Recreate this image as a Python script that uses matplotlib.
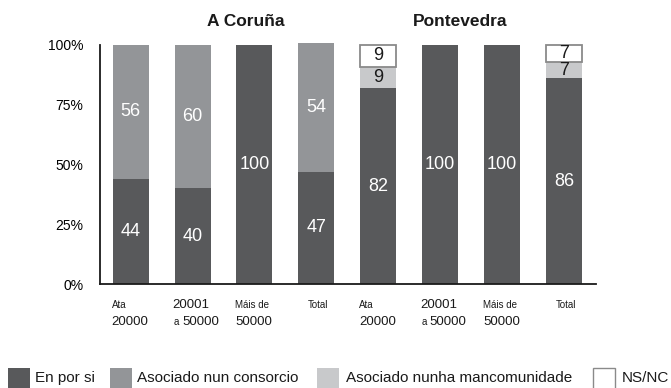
import matplotlib.pyplot as plt
from matplotlib.patches import Rectangle
import numpy as np

plt.rcParams['font.family'] = ['Liberation Sans', 'DejaVu Sans']

# tamaño do concello, en dúas liñas
label_top = ['Ata', '20001', 'Máis de', 'Total', 'Ata', '20001', 'Máis de', 'Total']
label_bottom = ['20000', 'a 50000', '50000', '', '20000', 'a 50000', '50000', '']
provinces = ['A Coruña', 'Pontevedra']

en_por_si = [44, 40, 100, 47, 82, 100, 100, 86]
consorcio = [56, 60, 0, 54, 0, 0, 0, 0]
mancomunidade = [0, 0, 0, 0, 9, 0, 0, 7]
ns_nc = [0, 0, 0, 0, 9, 0, 0, 7]

series = [en_por_si, consorcio, mancomunidade, ns_nc]
names = ['En por si', 'Asociado nun consorcio', 'Asociado nunha mancomunidade', 'NS/NC']
colors = ['#58595b', '#939598', '#c8c9cb', 'white']
edges = ['none', 'none', 'none', '#8a8a8a']
txt_colors = ['white', 'white', '#1a1a1a', '#1a1a1a']

W, H = 671, 388
fig = plt.figure(figsize=(W / 100, H / 100), dpi=100)
ax = fig.add_axes([100 / W, 1 - 284 / H, 496 / W, 239 / H])

x = np.arange(len(label_top))
bw = 0.58
bottom = np.zeros(len(x))
for vals, col, ec, tc in zip(series, colors, edges, txt_colors):
    vals = np.array(vals, dtype=float)
    keep = vals > 0
    ax.bar(x[keep], vals[keep], bw, bottom=bottom[keep], color=col, edgecolor=ec,
           linewidth=1.3 if ec != 'none' else 0, clip_on=False, zorder=2)
    for xi, b, v in zip(x[keep], bottom[keep], vals[keep]):
        ax.text(xi, b + v / 2, f'{v:.0f}', ha='center', va='center',
                fontsize=13, color=tc, zorder=3)
    bottom += vals

ax.set_xlim(-0.496, 7.52)
ax.set_ylim(0, 100)
ax.set_yticks([0, 25, 50, 75, 100])
ax.set_yticklabels(['0%', '25%', '50%', '75%', '100%'], fontsize=10)
ax.tick_params(axis='y', length=0, pad=12)
ax.set_xticks([])
for s in ['top', 'right']:
    ax.spines[s].set_visible(False)
for s in ['left', 'bottom']:
    ax.spines[s].set_linewidth(1.3)
    ax.spines[s].set_color('#1a1a1a')

# etiquetas do eixo x con dous tamaños de letra
def xlab(xi, dx, dy, s, size, ha='left'):
    ax.annotate(s, (xi, 0), xycoords=('data', 'axes fraction'),
                xytext=(dx, dy), textcoords='offset pixels',
                ha=ha, va='center', fontsize=size, color='#1a1a1a')

for xi, top, bot in zip(x, label_top, label_bottom):
    left = xi - bw / 2
    if top == 'Total':
        xlab(xi, 2, -21, top, 7, ha='center')
    elif top == '20001':
        xlab(left, -2, -21, top, 9.5)
    else:
        xlab(left, -1, -21, top, 7)
    if bot.startswith('a '):
        xlab(left, -0.5, -38, 'a', 7)
        xlab(left, 7.5, -38, bot[2:], 9.5)
    elif bot:
        xlab(left, -1, -38, bot, 9.5)

for name, cx in zip(provinces, [246, 460]):
    fig.text(cx / W, 1 - 22 / H, name, ha='center', va='center',
             fontsize=12.5, fontweight='bold', color='#1a1a1a')

# lenda na parte inferior
patch_x = [8, 110, 317, 593]
text_x = [35, 137, 346, 622]
for px, tx, name, col, ec in zip(patch_x, text_x, names, colors, edges):
    fig.patches.append(Rectangle((px / W, 1 - 390 / H), 22 / W, 22 / H,
                                 transform=fig.transFigure, facecolor=col,
                                 edgecolor='#8a8a8a' if ec != 'none' else 'none',
                                 linewidth=1))
    fig.text(tx / W, 1 - 378 / H, name, ha='left', va='center', fontsize=11,
             color='#1a1a1a')

fig.savefig('out.png', dpi=100)
